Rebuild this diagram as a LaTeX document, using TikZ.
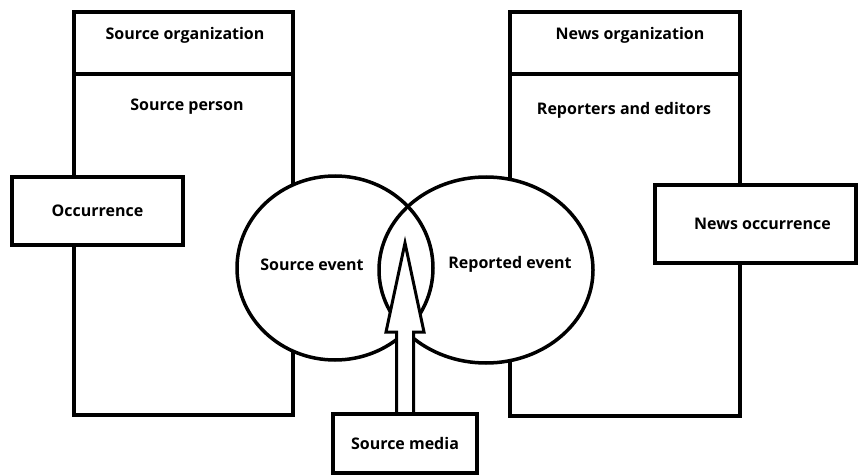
\documentclass[tikz,border=0pt]{standalone}
\usepackage{fontspec}
\setmainfont{Open Sans}
\usetikzlibrary{shapes.geometric}
\begin{document}
\begin{tikzpicture}[x=1pt,y=-1pt,
  txt/.style={font=\bfseries\fontsize{16}{18}\selectfont, inner sep=0pt},
  panel/.style={draw, line width=4pt, inner sep=0pt, outer sep=0pt},
  tag/.style={panel, fill=white, txt},
  event/.style={ellipse, draw, line width=3.5pt, inner sep=0pt, outer sep=0pt, txt},
  hollow/.style={draw, fill=white, line width=3pt, line join=miter}
]
\useasboundingbox (0,0) rectangle (859,476);

% organisation panels
\node[panel, minimum width=219, minimum height=403] (srcbox) at (183.5,213.5) {};
\node[panel, minimum width=230, minimum height=404] (newsbox) at (625,214) {};
\draw[line width=4pt] ([yshift=-62pt]srcbox.north west) -- ([yshift=-62pt]srcbox.north east);
\draw[line width=4pt] ([yshift=-62pt]newsbox.north west) -- ([yshift=-62pt]newsbox.north east);

\node[txt] (sorg) at (185,35) {Source organization};
\node[txt] (sper) at (187,107) {Source person};
\node[txt] (norg) at (630,35) {News organization};
\node[txt] (nrep) at (624,110) {Reporters and editors};

% occurrences
\node[tag, minimum width=171, minimum height=68] (occ) at (97.5,211) {Occurrence};
\node[tag, minimum width=201, minimum height=78] (nocc) at (755.5,224) {\hspace{14pt}News occurrence};

% overlapping events
\fill[white] (335,268) ellipse [x radius=98, y radius=92];
\fill[white] (486,270) ellipse [x radius=107, y radius=93];
\node[event, minimum width=196, minimum height=184] (sev) at (335,268) {};
\node[event, minimum width=214, minimum height=186] (rev) at (486,270) {};
\node[txt] (sevl) at (312,265) {Source event};
\node[txt] (revl) at (510,264) {Reported event};

% source media feeding the overlap
\node[panel, minimum width=144, minimum height=59] (sm) at (405,443.5) {};
\coordinate (tip) at (405,243);
\coordinate (hb) at (405,332);
\draw[hollow] ([xshift=-8.5pt]sm.north) -- ([xshift=-8.5pt]hb) -- ([xshift=-19pt]hb)
  -- (tip) -- ([xshift=19pt]hb) -- ([xshift=8.5pt]hb) -- ([xshift=8.5pt]sm.north);
\node[tag, minimum width=144, minimum height=59] at (sm) {Source media};
\end{tikzpicture}
\end{document}
